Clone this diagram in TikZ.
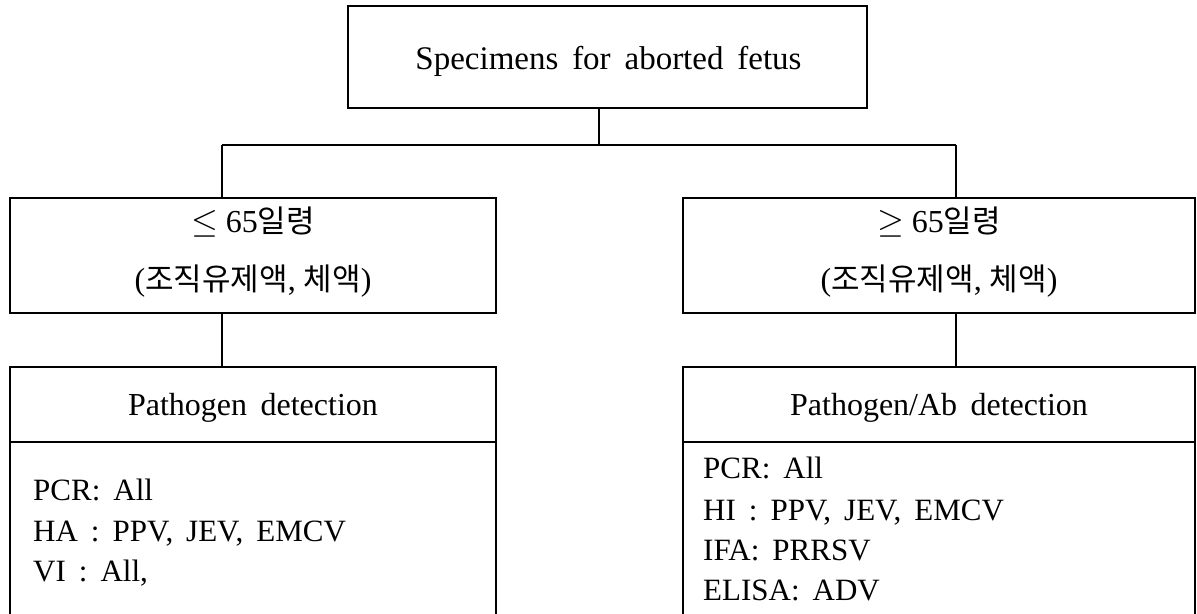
\documentclass[tikz,border=0pt]{standalone}
\usepackage{fontspec}
\setmainfont{Liberation Serif}
\newfontfamily\krfont{Noto Sans CJK KR}
\newcommand\ko[1]{{\krfont\fontsize{15.5}{18}\selectfont #1}}
\newcommand\widesp{\spaceskip=0.42em plus 0.1em\relax}
\usetikzlibrary{calc}
\begin{document}
\begin{tikzpicture}[x=0.5pt,y=-0.5pt,line width=1.2pt,
  box/.style={draw,rectangle,inner sep=0pt,line width=1.2pt},
  txt/.style={inner sep=0pt,font=\fontsize{16}{19}\selectfont},
  ttl/.style={inner sep=0pt,font=\fontsize{16.5}{19}\selectfont},
  lst/.style={inner sep=0pt,anchor=base west,font=\fontsize{15.5}{19}\selectfont},
]
\useasboundingbox (0,0) rectangle (1197,614);
% top
\node[box,minimum width=259.5pt,minimum height=51pt] (top) at (607.5,57) {};
\node[ttl,anchor=base] (toptxt) at (608.5,70) {\widesp Specimens for aborted fetus};
% middle
\node[box,minimum width=243pt,minimum height=57.5pt] (midL) at (253,255.5) {};
\node[txt,anchor=base] (midLa) at (253,233) {$\leq$ 65\ko{일령}};
\node[txt,anchor=base] (midLb) at (253,291) {(\ko{조직유제액}, \ko{체액})};
\node[box,minimum width=256pt,minimum height=57.5pt] (midR) at (939,255.5) {};
\node[txt,anchor=base] (midRa) at (939,233) {$\geq$ 65\ko{일령}};
\node[txt,anchor=base] (midRb) at (939,291) {(\ko{조직유제액}, \ko{체액})};
% bottom left
\node[box,minimum width=243pt,minimum height=37.5pt] (hdL) at (253,404.5) {};
\node[txt,anchor=base] (hdLt) at (253,415) {\widesp Pathogen detection};
\node[box,minimum width=243pt,minimum height=99pt] (bdL) at (253,541) {};
\node[lst] (l1) at (32,500) {\widesp PCR: All};
\node[lst] (l2) at (32,541) {\widesp HA : PPV, JEV, EMCV};
\node[lst] (l3) at (32,581) {\widesp VI : All,};
% bottom right
\node[box,minimum width=256pt,minimum height=37.5pt] (hdR) at (939,404.5) {};
\node[txt,anchor=base] (hdRt) at (939,415) {\widesp Pathogen/Ab detection};
\node[box,minimum width=256pt,minimum height=99pt] (bdR) at (939,541) {};
\node[lst] (r1) at (702,478) {\widesp PCR: All};
\node[lst] (r2) at (702,520) {\widesp HI : PPV, JEV, EMCV};
\node[lst] (r3) at (702,560) {\widesp IFA: PRRSV};
\node[lst] (r4) at (702,600) {\widesp ELISA: ADV};
% connectors
\coordinate (jt) at (599,145);
\coordinate (jl) at (222,145);
\coordinate (jr) at (956,145);
\draw (jt |- top.south) -- (jt);
\draw (jl) -- (jr);
\draw (jl) -- (jl |- midL.north);
\draw (jr) -- (jr |- midR.north);
\draw (jl |- midL.south) -- (jl |- hdL.north);
\draw (jr |- midR.south) -- (jr |- hdR.north);
\end{tikzpicture}
\end{document}
